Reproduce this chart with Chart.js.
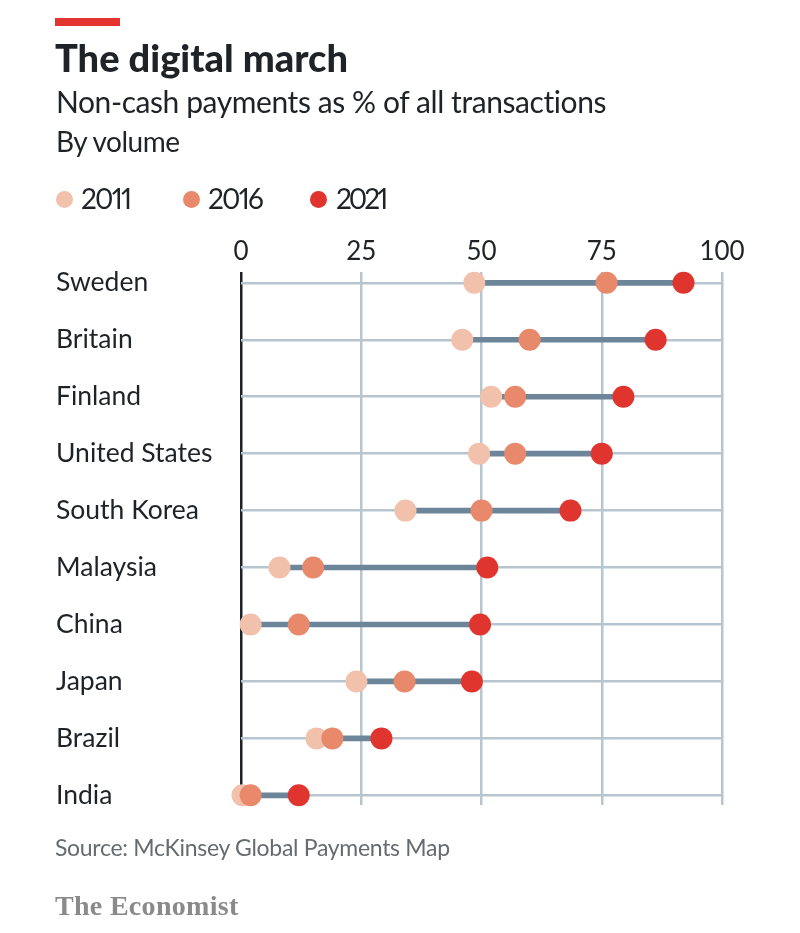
<!DOCTYPE html>
<html>
<head>
<meta charset="utf-8">
<title>The digital march</title>
<script src="https://cdn.jsdelivr.net/npm/chart.js@4"></script>
<style>
    html, body { margin: 0; background: #fff; }
    #page { position: relative; width: 800px; height: 933px; overflow: hidden; font-family: Lato, sans-serif; color: #1f2226; }
    #chart { position: absolute; left: 0; top: 0; }
    .txt { position: absolute; white-space: nowrap; line-height: 1; }
    #bar { position: absolute; left: 55px; top: 18px; width: 65px; height: 8px; background: #e3342f; }
    #title { left: 55px; top: 38px; font-size: 38px; font-weight: 900; }
    #subtitle { left: 56px; top: 86px; font-size: 30px; letter-spacing: -.42px; }
    #by { left: 56px; top: 127px; font-size: 28px; letter-spacing: -.5px; }
    #source { left: 55px; top: 836px; font-size: 23px; letter-spacing: -.3px; color: #666b70; }
    #brand { left: 55px; top: 892px; font-size: 28px; font-weight: 700; font-family: "Liberation Serif", serif; color: #8a8a8a; letter-spacing: .3px; }
    .key { position: absolute; top: 191px; width: 17px; height: 17px; border-radius: 50%; }
    .keytxt { top: 184px; font-size: 28px; font-variant-numeric: proportional-nums; font-feature-settings: "pnum"; letter-spacing: -1.75px; }
</style>
</head>
<body>
<div id="page">
    <canvas id="chart" width="800" height="933"></canvas>
    <div id="bar"></div>
    <div class="txt" id="title">The digital march</div>
    <div class="txt" id="subtitle">Non-cash payments as % of all transactions</div>
    <div class="txt" id="by">By volume</div>
    <div class="key" style="left:56px;background:#f2c1ab"></div><div class="txt keytxt" style="left:81px">2011</div>
    <div class="key" style="left:183px;background:#e8896b"></div><div class="txt keytxt" style="left:208px">2016</div>
    <div class="key" style="left:310px;background:#e0352f"></div><div class="txt keytxt" style="left:336px;letter-spacing:-3px">2021</div>
    <div class="txt" id="source">Source: McKinsey Global Payments Map</div>
    <div class="txt" id="brand">The Economist</div>
</div>
<script>
// Datos
const countries = ['Sweden', 'Britain', 'Finland', 'United States', 'South Korea', 'Malaysia', 'China', 'Japan', 'Brazil', 'India'];
const values2011 = [48.5, 46, 52, 49.5, 34.2, 8, 2, 24, 15.7, 0.3];
const values2016 = [76, 60, 57, 57, 50, 15, 12, 34, 19, 2];
const values2021 = [92, 86.2, 79.5, 75, 68.5, 51.2, 49.7, 48, 29.2, 12];
const xTicks = [0, 25, 50, 75, 100];

const GRID = '#b7c5d1';
const INK = '#1f2226';

const points = (values) => values.map((v, i) => ({ x: v, y: i }));

const dots = (label, values, color) => ({
    type: 'scatter',
    label,
    data: points(values),
    backgroundColor: color,
    borderWidth: 0,
    pointRadius: 11,
    clip: false
});

new Chart(document.getElementById('chart'), {
    data: {
        datasets: [
            // el orden es inverso: el primero queda encima
            Object.assign(dots('2021', values2021, '#e0352f'), { order: 1 }),
            Object.assign(dots('2016', values2016, '#e8896b'), { order: 2 }),
            Object.assign(dots('2011', values2011, '#f2c1ab'), { order: 3 }),
            {
                type: 'bar',
                label: 'range',
                order: 4,
                data: countries.map((_, i) => ({ x: [values2011[i], values2021[i]], y: i })),
                backgroundColor: '#6c8598',
                barThickness: 5
            }
        ]
    },
    options: {
        responsive: false,
        animation: false,
        indexAxis: 'y',
        layout: { padding: { left: 56, right: 78, top: 0, bottom: 128 } },
        plugins: { legend: { display: false }, tooltip: { enabled: false } },
        scales: {
            x: {
                type: 'linear',
                position: 'top',
                min: 0,
                max: 100,
                afterFit: (axis) => { axis.height = 272; },
                afterBuildTicks: (axis) => { axis.ticks = xTicks.map(value => ({ value })); },
                border: { display: false },
                grid: {
                    drawTicks: false,
                    lineWidth: 2.5,
                    color: (ctx) => ctx.tick && ctx.tick.value === 0 ? INK : GRID
                },
                ticks: { color: INK, padding: 5, maxRotation: 0, font: { family: 'Lato', size: 26 } }
            },
            y: {
                type: 'linear',
                reverse: true,
                offset: false,
                min: -0.19,
                max: 9.17,
                afterFit: (axis) => { axis.width = 185; },
                afterBuildTicks: (axis) => { axis.ticks = countries.map((_, value) => ({ value })); },
                border: { display: false },
                grid: { offset: false, drawTicks: false, lineWidth: 2.5, color: GRID },
                ticks: {
                    color: INK,
                    crossAlign: 'far',
                    padding: 0,
                    autoSkip: false,
                    font: { family: 'Lato', size: 26.5 },
                    callback: (value) => countries[value]
                }
            }
        }
    }
});
</script>
</body>
</html>
